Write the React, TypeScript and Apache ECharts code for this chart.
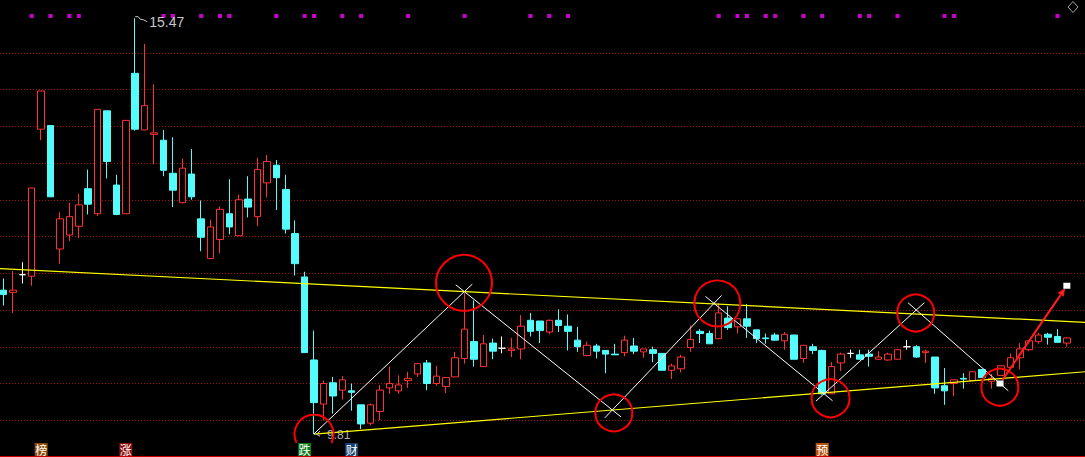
import React, { useEffect, useRef } from 'react';
import * as echarts from 'echarts';

// [open, close, low, high] per trading day
const candles: number[][] = [
  [11.77, 11.71, 11.56, 11.93], [11.74, 11.77, 11.46, 12.03], [11.98, 11.98, 11.86, 12.15], [11.96, 13.16, 11.83, 13.16],
  [13.96, 14.48, 13.81, 14.48], [14.01, 13.04, 13.04, 14.01], [12.33, 12.74, 12.13, 12.83], [12.52, 12.77, 12.44, 12.96],
  [12.64, 12.93, 12.48, 13.08], [13.15, 12.94, 12.80, 13.41], [12.81, 14.23, 12.78, 14.23], [14.21, 13.52, 13.29, 14.21],
  [13.20, 12.80, 12.79, 13.34], [12.81, 14.08, 12.81, 14.08], [14.72, 13.96, 13.94, 15.47], [13.95, 14.28, 13.95, 15.12],
  [13.89, 13.91, 13.48, 14.57], [13.81, 13.40, 13.32, 13.95], [13.36, 13.13, 12.90, 13.85], [12.96, 13.43, 12.95, 13.56],
  [13.35, 13.04, 13.00, 13.69], [12.74, 12.49, 12.30, 12.99], [12.20, 12.63, 12.20, 12.73], [12.46, 12.87, 12.27, 12.91],
  [12.81, 12.63, 12.53, 13.28], [12.51, 13.00, 12.51, 13.07], [13.01, 12.90, 12.76, 13.32], [12.77, 13.41, 12.64, 13.57],
  [13.23, 13.52, 13.03, 13.61], [13.47, 13.30, 12.86, 13.54], [13.14, 12.60, 12.54, 13.34], [12.54, 12.13, 11.97, 12.72],
  [11.95, 10.92, 10.92, 12.02], [10.82, 10.24, 9.81, 11.22], [10.22, 10.50, 10.00, 10.54], [10.51, 10.33, 10.09, 10.59],
  [10.41, 10.55, 10.28, 10.60], [10.40, 10.38, 10.13, 10.50], [10.21, 9.95, 9.88, 10.21], [9.96, 10.21, 9.93, 10.23],
  [10.12, 10.41, 10.00, 10.48], [10.44, 10.50, 10.36, 10.73], [10.40, 10.48, 10.36, 10.61], [10.54, 10.57, 10.44, 10.66],
  [10.63, 10.77, 10.59, 10.78], [10.78, 10.50, 10.41, 10.82], [10.50, 10.60, 10.47, 10.74], [10.46, 10.58, 10.37, 10.59],
  [10.59, 10.85, 10.59, 10.93], [10.84, 11.24, 10.77, 11.73], [11.07, 10.83, 10.73, 11.63], [10.73, 11.04, 10.73, 11.16],
  [11.05, 10.94, 10.83, 11.11], [10.98, 10.98, 10.91, 11.14], [10.95, 10.97, 10.86, 11.12], [10.97, 11.28, 10.83, 11.43],
  [11.36, 11.21, 11.14, 11.46], [11.35, 11.22, 11.05, 11.35], [11.20, 11.36, 11.17, 11.37], [11.36, 11.29, 11.20, 11.51],
  [11.28, 11.21, 10.95, 11.44], [11.09, 11.00, 10.93, 11.27], [10.88, 11.02, 10.87, 11.07], [11.01, 10.94, 10.84, 11.04],
  [10.95, 10.90, 10.64, 10.95], [10.90, 10.89, 10.89, 11.04], [10.92, 11.09, 10.87, 11.15], [11.01, 10.94, 10.90, 11.12],
  [10.93, 10.97, 10.85, 10.97], [10.96, 10.91, 10.79, 11.00], [10.91, 10.68, 10.68, 10.91], [10.68, 10.74, 10.56, 10.77],
  [10.70, 10.86, 10.65, 10.89], [10.99, 11.10, 10.93, 11.29], [11.21, 11.18, 11.05, 11.24], [11.18, 11.04, 11.04, 11.22],
  [11.11, 11.46, 11.10, 11.59], [11.39, 11.26, 11.23, 11.55], [11.27, 11.38, 11.18, 11.38], [11.38, 11.28, 11.12, 11.58],
  [11.23, 11.11, 11.05, 11.23], [11.12, 11.11, 11.04, 11.18], [11.16, 11.09, 11.08, 11.19], [11.08, 11.17, 10.96, 11.20],
  [11.16, 10.83, 10.83, 11.16], [10.84, 11.02, 10.78, 11.02], [11.00, 10.95, 10.90, 11.04], [10.95, 10.36, 10.35, 10.96],
  [10.36, 10.73, 10.36, 10.79], [10.78, 10.90, 10.67, 10.92], [10.91, 10.91, 10.85, 10.96], [10.89, 10.83, 10.83, 10.96],
  [10.90, 10.87, 10.73, 10.96], [10.83, 10.86, 10.82, 10.94], [10.82, 10.90, 10.81, 10.92], [10.83, 10.96, 10.83, 10.96],
  [11.00, 11.00, 10.96, 11.09], [11.00, 10.86, 10.85, 11.02], [10.92, 10.94, 10.78, 10.96], [10.86, 10.44, 10.36, 10.86],
  [10.47, 10.40, 10.21, 10.71], [10.50, 10.55, 10.33, 10.55], [10.57, 10.56, 10.43, 10.64], [10.54, 10.66, 10.54, 10.66],
  [10.69, 10.58, 10.58, 10.69], [10.53, 10.57, 10.43, 10.63], [10.61, 10.74, 10.61, 10.74], [10.72, 10.85, 10.72, 10.91],
  [10.85, 10.97, 10.69, 11.05], [10.96, 11.08, 10.94, 11.08], [11.07, 11.16, 11.04, 11.19], [11.17, 11.13, 11.03, 11.19],
  [11.14, 11.06, 11.06, 11.24], [11.05, 11.12, 11.00, 11.13],
];

// candle indexes carrying a magenta signal dot at the top
const signalDots = [3, 5, 7, 8, 17, 18, 21, 23, 24, 29, 32, 33, 36, 38, 43, 49, 56, 58, 60, 76, 78, 79, 81, 82, 85, 87, 91, 92, 95, 100, 101, 112];
const signalLevel = 15.5;

// trend lines [index, price]
const upperTrend = [[-0.372, 12.064], [114.93, 11.332]];
const lowerTrend = [[33, 9.81], [114.93, 10.66]];

// zigzag pivots [index, price]
const zigzagPivots = [[33, 9.815], [48.97, 11.75], [64.7, 10.14], [75.5, 11.59], [87.2, 10.36], [97.0, 11.5], [105.9, 10.5]];

// red circles around pivots [index, price]
const circleCenters = [[48.94, 11.87], [64.86, 10.1], [75.86, 11.59], [87.89, 10.3], [96.94, 11.46], [105.88, 10.45]];
const lowCircleCenter = [33, 9.81];
const arrowTarget = [113.0, 11.83];

const highMark = { index: 14, price: 15.47, text: '15.47' };
const lowMark = { index: 33, price: 9.81, text: '9.81' };

const tagIndexes = [4, 13, 32, 37, 87];
const tagTexts = ['榜', '涨', '跌', '财', '预'];

// ---- styles ----
const UP = '#FF3232';
const DOWN = '#54FCFC';
const TAG_COLORS = ['#8a4a0a', '#8c1010', '#0b7a1a', '#15406e', '#b8520f'];
const CIRCLE_R = [28, 18.5, 23, 19, 18.5, 18.5];

export default function App() {
  const ref = useRef<HTMLDivElement>(null);

  useEffect(() => {
    document.body.style.margin = '0';
    document.body.style.background = '#000';
    const chart = echarts.init(ref.current!, null, { renderer: 'svg' });

    chart.setOption({
      animation: false,
      backgroundColor: '#000',
      grid: { left: 0, top: 16, width: 1085, height: 444, containLabel: false },
      xAxis: { type: 'value', min: -0.372, max: 114.93, show: false },
      yAxis: {
        type: 'value',
        min: 9.5,
        max: 15.5,
        interval: 0.5,
        axisLine: { show: false },
        axisTick: { show: false },
        axisLabel: { show: false },
        splitLine: {
          show: true,
          showMinLine: false,
          showMaxLine: false,
          lineStyle: { color: '#a01010', width: 1, type: [1, 2] },
        },
      },
      series: [
        {
          type: 'candlestick',
          data: candles.map((c, i) => [i, c[0], c[1], c[2], c[3]]),
          encode: { x: 0, y: [1, 2, 3, 4] },
          barWidth: 7,
          itemStyle: {
            color: '#000',
            color0: DOWN,
            borderColor: UP,
            borderColor0: DOWN,
            borderColorDoji: '#FFFFFF',
            borderWidth: 1,
          },
          z: 2,
          silent: true,
        },
        {
          type: 'line',
          data: upperTrend,
          symbol: 'none',
          lineStyle: { color: '#FFFF00', width: 1.2 },
          z: 3,
          silent: true,
        },
        {
          type: 'line',
          data: lowerTrend,
          symbol: 'none',
          lineStyle: { color: '#FFFF00', width: 1.2 },
          z: 3,
          silent: true,
        },
        {
          type: 'scatter',
          data: signalDots.map((i) => [i, signalLevel]),
          symbol: 'rect',
          symbolSize: 4,
          itemStyle: { color: '#FF00FF' },
          clip: false,
          z: 5,
          silent: true,
        },
      ],
    });

    const px = (p: number[]) => chart.convertToPixel({ gridIndex: 0 }, p) as number[];
    const elements: any[] = [];

    // zigzag legs, each extended slightly past its pivots
    const EXT = 11;
    for (let i = 0; i < zigzagPivots.length - 1; i++) {
      const a = px(zigzagPivots[i]);
      const b = px(zigzagPivots[i + 1]);
      const dx = b[0] - a[0];
      const dy = b[1] - a[1];
      const len = Math.hypot(dx, dy);
      const ux = dx / len;
      const uy = dy / len;
      const s = i === 0 ? a : [a[0] - ux * EXT, a[1] - uy * EXT];
      const e = [b[0] + ux * EXT, b[1] + uy * EXT];
      elements.push({
        type: 'line',
        z: 50,
        silent: true,
        shape: { x1: s[0], y1: s[1], x2: e[0], y2: e[1] },
        style: { stroke: '#FFFFFF', lineWidth: 1 },
      });
    }

    // circles
    circleCenters.forEach((c, i) => {
      const p = px(c);
      elements.push({
        type: 'circle',
        z: 60,
        silent: true,
        shape: { cx: p[0], cy: p[1], r: CIRCLE_R[i] },
        style: { fill: 'none', stroke: '#FF0000', lineWidth: 2 },
      });
    });
    {
      const p = px(lowCircleCenter);
      const r = 19.5;
      const clipY = 443;
      const a = Math.asin(Math.max(-1, Math.min(1, (clipY - p[1]) / r)));
      elements.push({
        type: 'arc',
        z: 60,
        silent: true,
        shape: { cx: p[0], cy: p[1], r, startAngle: Math.PI - a, endAngle: 2 * Math.PI + a, clockwise: true },
        style: { fill: 'none', stroke: '#FF0000', lineWidth: 2 },
      });
    }

    // red arrow from last pivot to target
    {
      const a = px(zigzagPivots[zigzagPivots.length - 1]);
      const b = px(arrowTarget);
      const dx = b[0] - a[0];
      const dy = b[1] - a[1];
      const len = Math.hypot(dx, dy);
      const ux = dx / len;
      const uy = dy / len;
      const tip = [b[0] - ux * 3, b[1] - uy * 3];
      const base = [tip[0] - ux * 8, tip[1] - uy * 8];
      elements.push({
        type: 'line',
        z: 70,
        silent: true,
        shape: { x1: a[0] + ux * 4, y1: a[1] + uy * 4, x2: base[0], y2: base[1] },
        style: { stroke: '#FF1E1E', lineWidth: 2 },
      });
      elements.push({
        type: 'polygon',
        z: 70,
        silent: true,
        shape: {
          points: [
            tip,
            [base[0] - uy * 3.5, base[1] + ux * 3.5],
            [base[0] + uy * 3.5, base[1] - ux * 3.5],
          ],
        },
        style: { fill: '#FF1E1E' },
      });
      [a, b].forEach((p) => {
        elements.push({
          type: 'rect',
          z: 80,
          silent: true,
          shape: { x: p[0] - 3.5, y: p[1] - 3, width: 7, height: 6 },
          style: { fill: '#FFFFFF' },
        });
      });
    }

    // high / low price marks
    {
      const h = px([highMark.index, highMark.price]);
      elements.push({
        type: 'polyline',
        z: 40,
        silent: true,
        shape: { points: [[h[0], h[1] - 1.5], [h[0] + 3, h[1] - 1.5], [h[0] + 5, h[1] + 1], [h[0] + 8, h[1] + 1.5], [h[0] + 12, h[1] + 3.5]] },
        style: { stroke: '#c8c8c8', lineWidth: 1, fill: 'none' },
      });
      elements.push({
        type: 'text',
        z: 40,
        silent: true,
        x: h[0] + 14,
        y: h[1] + 4,
        style: {
          text: highMark.text,
          fill: '#c8c8c8',
          fontSize: 14,
          fontFamily: "'Liberation Sans Narrow', 'Liberation Sans', sans-serif",
          align: 'left',
          verticalAlign: 'middle',
          textAlign: 'left',
          textVerticalAlign: 'middle',
        },
      });
      const l = px([lowMark.index, lowMark.price]);
      elements.push({
        type: 'polyline',
        z: 40,
        silent: true,
        shape: { points: [[l[0] + 6, l[1] - 3], [l[0] + 2.5, l[1]], [l[0] + 6, l[1] + 2]] },
        style: { stroke: '#c8c8c8', lineWidth: 1, fill: 'none' },
      });
      elements.push({
        type: 'text',
        z: 2,
        silent: true,
        x: l[0] + 13,
        y: 441,
        style: {
          text: lowMark.text,
          fill: '#b0b0b0',
          fontSize: 12,
          fontFamily: "'Liberation Sans Narrow', 'Liberation Sans', sans-serif",
          align: 'left',
          verticalAlign: 'bottom',
          textAlign: 'left',
          textVerticalAlign: 'bottom',
        },
      });
    }

    // bottom event tags
    tagIndexes.forEach((idx, i) => {
      const p = px([idx, 10]);
      elements.push({
        type: 'rect',
        z: 90,
        silent: true,
        shape: { x: p[0] - 6.5, y: 443, width: 13, height: 13 },
        style: { fill: TAG_COLORS[i] },
      });
      elements.push({
        type: 'text',
        z: 91,
        silent: true,
        x: p[0],
        y: 449.5,
        style: {
          text: tagTexts[i],
          fill: '#FFFFFF',
          fontSize: 12,
          fontFamily: "'Noto Sans CJK SC', sans-serif",
          align: 'center',
          verticalAlign: 'middle',
          textAlign: 'center',
          textVerticalAlign: 'middle',
        },
      });
    });

    // bottom border line and corner diamond
    elements.push({
      type: 'line',
      z: 95,
      silent: true,
      shape: { x1: 0, y1: 456.5, x2: 1085, y2: 456.5 },
      style: { stroke: '#cc0000', lineWidth: 1 },
    });
    elements.push({
      type: 'polygon',
      z: 95,
      silent: true,
      shape: { points: [[1073, 1.5], [1078, 7], [1073, 12.5], [1068, 7]] },
      style: { fill: 'none', stroke: '#a0a0a0', lineWidth: 1 },
    });

    chart.setOption({ graphic: { elements } });

    return () => chart.dispose();
  }, []);

  return <div ref={ref} style={{ width: 1085, height: 457 }} />;
}
